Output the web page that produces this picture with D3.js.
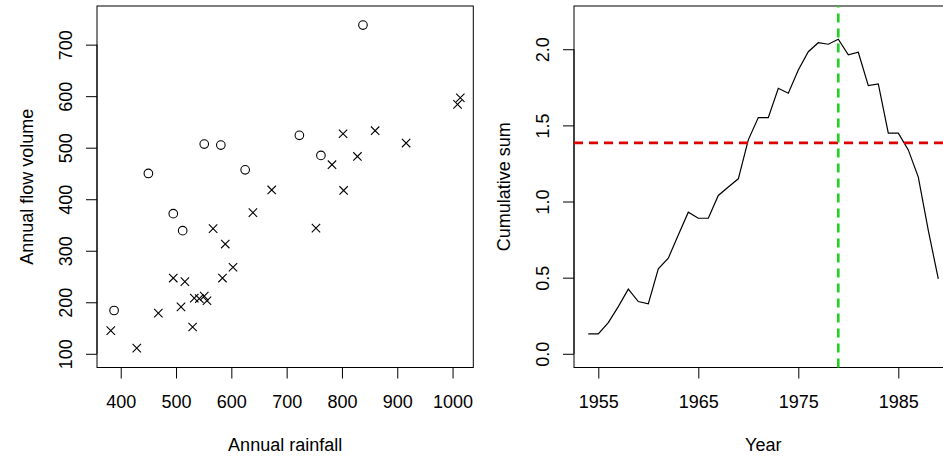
<!DOCTYPE html>
<html>
<head>
<meta charset="utf-8">
<script src="https://cdn.jsdelivr.net/npm/d3@7"></script>
<style>
  html, body { margin: 0; padding: 0; background: #fff; }
  svg { display: block; }
  text { font-family: "Liberation Sans", Arial, Helvetica, sans-serif; font-size: 18px; fill: #000; }
</style>
</head>
<body>
<svg id="chart" width="943" height="459"></svg>
<script>
// ---- Data ----
const circleRain = [450, 551, 581, 625, 838, 723, 762, 495, 512, 388];
const circleFlow = [450, 507, 505, 457, 738, 524, 485, 372, 339, 184];

const crossRain = [673, 1014, 1009, 802, 860, 916, 828, 782, 803, 753, 639, 567, 589, 603, 584, 495, 516, 533, 542, 551, 556, 509, 468, 530, 382, 429];
const crossFlow = [418, 597, 584, 527, 533, 509, 483, 467, 417, 344, 374, 343, 313, 268, 247, 247, 240, 208, 207, 212, 203, 191, 179, 152, 145, 111];

const years = [1954,1955,1956,1957,1958,1959,1960,1961,1962,1963,1964,1965,1966,1967,1968,1969,1970,1971,
               1972,1973,1974,1975,1976,1977,1978,1979,1980,1981,1982,1983,1984,1985,1986,1987,1988,1989];
const cusum = [0.131,0.131,0.205,0.31,0.425,0.343,0.328,0.558,0.628,0.78,0.93,0.89,0.89,1.04,1.095,1.149,1.405,1.551,
               1.551,1.744,1.711,1.864,1.984,2.043,2.033,2.066,1.963,1.98,1.761,1.772,1.449,1.449,1.339,1.16,0.81,0.492];

const threshold = 1.385;
const changeYear = 1979;

const leftXTicks = [400, 500, 600, 700, 800, 900, 1000];
const leftYTicks = [100, 200, 300, 400, 500, 600, 700];
const rightXTicks = [1955, 1965, 1975, 1985];
const rightYTicks = [0, 0.5, 1.0, 1.5, 2.0];

// ---- Layout ----
const svg = d3.select("#chart");
const plotTop = 6, plotBottom = 367.5, tickLen = 11;

function styleAxis(g) {
  g.selectAll("path.domain").attr("stroke", "#000").attr("stroke-width", 1);
  g.selectAll(".tick line").attr("stroke", "#000").attr("stroke-width", 1);
}

function drawPanel(opts) {
  const { left, right, xDomain, yDomain, xTicks, yTicks, yFmt, xLabel, yLabel } = opts;
  const x = d3.scaleLinear().domain(xDomain).range([left, right]);
  const y = d3.scaleLinear().domain(yDomain).range([plotBottom, plotTop]);

  const gx = svg.append("g").attr("transform", `translate(0,${plotBottom})`)
    .call(d3.axisBottom(x).tickValues(xTicks).tickSizeOuter(0).tickSizeInner(tickLen).tickFormat(d3.format("d")));
  gx.select("path.domain").attr("d", `M${x(xTicks[0])},0H${x(xTicks[xTicks.length-1])}`);
  gx.selectAll(".tick text").attr("y", 408.3 - plotBottom).attr("dy", null).attr("font-size", 18)
    .attr("font-family", null);
  styleAxis(gx);

  const gy = svg.append("g").attr("transform", `translate(${left},0)`)
    .call(d3.axisLeft(y).tickValues(yTicks).tickSizeOuter(0).tickSizeInner(tickLen).tickFormat(yFmt));
  gy.select("path.domain").attr("d", `M0,${y(yTicks[0])}V${y(yTicks[yTicks.length-1])}`);
  gy.selectAll(".tick text").attr("x", null).attr("dy", null).attr("y", 0)
    .attr("text-anchor", "middle").attr("transform", "translate(-25.3,0) rotate(-90)")
    .attr("font-size", 18).attr("font-family", null);
  styleAxis(gy);

  svg.append("rect").attr("x", left).attr("y", plotTop).attr("width", right - left).attr("height", plotBottom - plotTop)
    .attr("fill", "none").attr("stroke", "#000").attr("stroke-width", 1);

  svg.append("text").attr("x", (left + right) / 2).attr("y", 450.5).attr("text-anchor", "middle").text(xLabel);
  svg.append("text").attr("transform", `translate(${left - 64},${(plotTop + plotBottom) / 2}) rotate(-90)`)
    .attr("text-anchor", "middle").text(yLabel);

  return { x, y };
}

// ---- Left panel: scatter ----
const L = drawPanel({
  left: 97, right: 473.3,
  xDomain: [357.1, 1037.5], yDomain: [73.4, 775],
  xTicks: leftXTicks, yTicks: leftYTicks, yFmt: d3.format("d"),
  xLabel: "Annual rainfall", yLabel: "Annual flow volume"
});

const circles = circleRain.map((r, i) => ({ r, f: circleFlow[i] }));
const crosses = crossRain.map((r, i) => ({ r, f: crossFlow[i] }));

svg.append("g").selectAll("circle").data(circles).join("circle")
  .attr("cx", d => L.x(d.r)).attr("cy", d => L.y(d.f)).attr("r", 4.3)
  .attr("fill", "none").attr("stroke", "#000").attr("stroke-width", 1.1);

const cs = 4.2;
svg.append("g").selectAll("path").data(crosses).join("path")
  .attr("d", d => {
    const cx = L.x(d.r), cy = L.y(d.f);
    return `M${cx-cs},${cy-cs}L${cx+cs},${cy+cs}M${cx-cs},${cy+cs}L${cx+cs},${cy-cs}`;
  })
  .attr("fill", "none").attr("stroke", "#000").attr("stroke-width", 1.1);

// ---- Right panel: cumulative sum ----
const R = drawPanel({
  left: 574, right: 952.6,
  xDomain: [1952.57, 1990.43], yDomain: [-0.09, 2.284],
  xTicks: rightXTicks, yTicks: rightYTicks, yFmt: d3.format(".1f"),
  xLabel: "Year", yLabel: "Cumulative sum"
});

const series = years.map((yr, i) => ({ yr, v: cusum[i] }));
svg.append("path").datum(series)
  .attr("d", d3.line().x(d => R.x(d.yr)).y(d => R.y(d.v)))
  .attr("fill", "none").attr("stroke", "#000").attr("stroke-width", 1.2);

svg.append("line")
  .attr("x1", 574).attr("x2", 952.6).attr("y1", R.y(threshold)).attr("y2", R.y(threshold))
  .attr("stroke", "#DD0000").attr("stroke-width", 2.6).attr("stroke-dasharray", "9,6");

svg.append("line")
  .attr("x1", R.x(changeYear)).attr("x2", R.x(changeYear)).attr("y1", plotBottom).attr("y2", plotTop)
  .attr("stroke", "#1ED21E").attr("stroke-width", 2.6).attr("stroke-dasharray", "9,6");
</script>
</body>
</html>
